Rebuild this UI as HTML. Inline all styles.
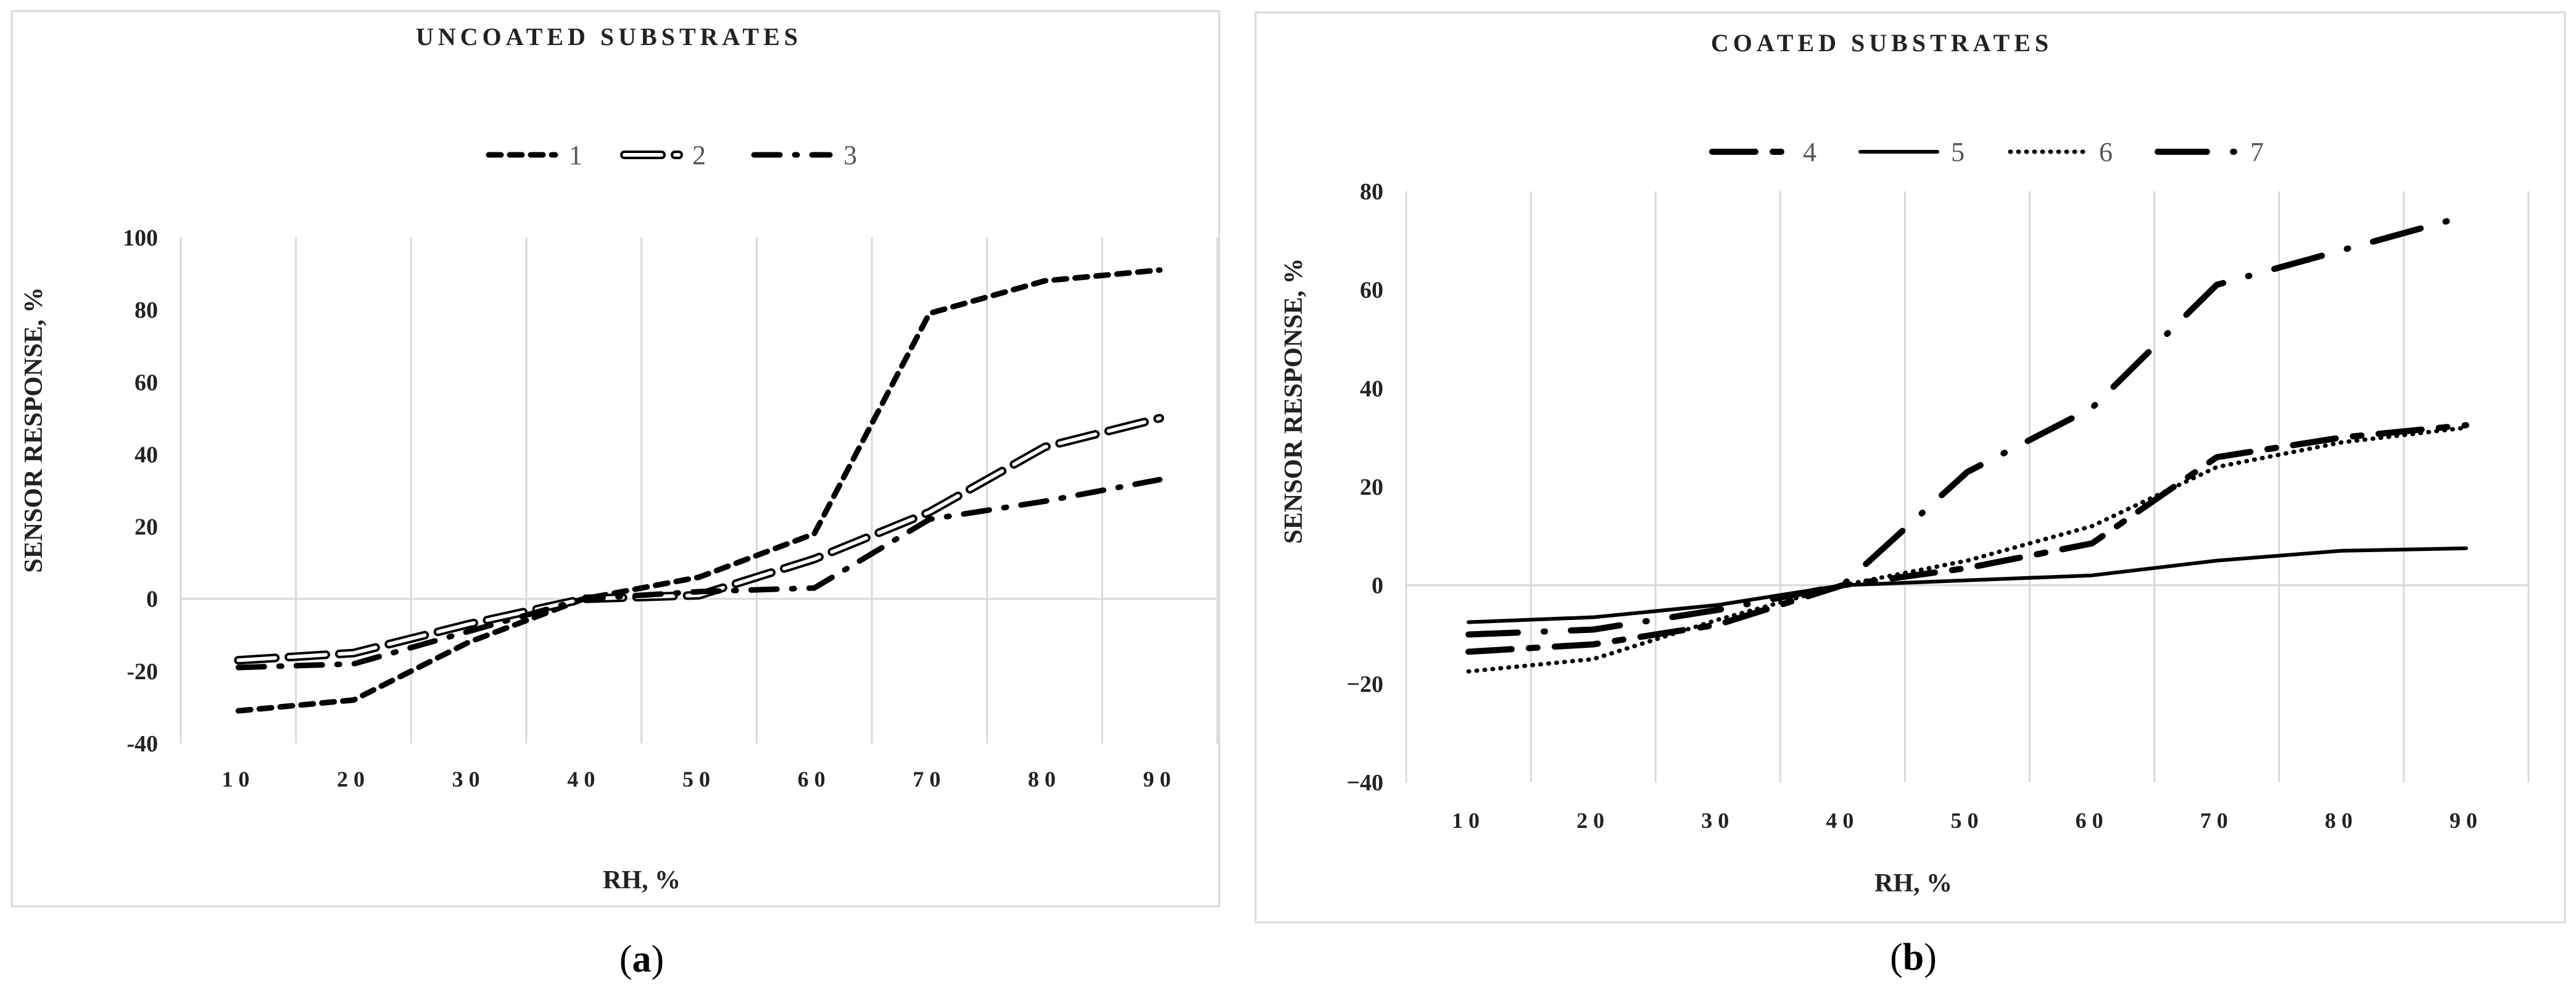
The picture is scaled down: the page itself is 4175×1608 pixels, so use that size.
<!DOCTYPE html>
<html><head><meta charset="utf-8"><style>
html,body{margin:0;padding:0;background:#fff}
svg{display:block}
text{font-family:"Liberation Serif",serif}
</style></head><body>
<svg id="chart" width="4175" height="1608" viewBox="0 0 4175 1608"></svg>
<script>
const categories = [10,20,30,40,50,60,70,80,90];
const s1 = [-31,-28,-12,0,6,18,79,88,91];
const s2 = [-17,-15,-7,0,1,11,24,42,50];
const s3 = [-19,-18,-9,0,2,3,22,27,33];
const s4 = [-13.5,-12,-8,0,3.5,8.5,26,30,32.5];
const s5 = [-7.5,-6.5,-4,0,1,2,5,7,7.5];
const s6 = [-17.5,-15,-7,0,5,12,24,29,32];
const s7 = [-10,-9,-5,0,23,36,61,68,75];
const ticksA = [100,80,60,40,20,0,-20,-40];
const ticksB = [80,60,40,20,0,-20,-40];

const NS='http://www.w3.org/2000/svg';
const svg=document.getElementById('chart');
function mk(tag,attrs,parent,text){const e=document.createElementNS(NS,tag);for(const k in attrs)e.setAttribute(k,attrs[k]);if(text!==undefined)e.textContent=text;(parent||svg).appendChild(e);return e;}

function panel(cfg){
  const g=mk('g',{});
  
  
  const fr=mk('rect',{x:cfg.fx,y:cfg.fy,width:cfg.fw,height:cfg.fh,fill:'none',stroke:'#d9d9d9','stroke-width':3},g);
  
  
  const t=mk('text',{x:cfg.tx,y:cfg.ty,'text-anchor':'middle','font-size':40,'font-weight':'bold','letter-spacing':7,fill:'#222'},g,cfg.title);
  
  
  const n=categories.length;
  const cw=(cfg.x1-cfg.x0)/n;
  const xs=i=>cfg.x0+cw*(i+0.5);
  const ys=v=>cfg.y0+(cfg.ymax-v)*(cfg.y1-cfg.y0)/(cfg.ymax-cfg.ymin);
  for(let i=0;i<=n;i++){
    const l=mk('line',{x1:cfg.x0+cw*i,x2:cfg.x0+cw*i,y1:cfg.y0,y2:cfg.y1,stroke:'#d9d9d9','stroke-width':3},g);
    
    
  }
  const z=mk('line',{x1:cfg.x0,x2:cfg.x1,y1:ys(0),y2:ys(0),stroke:'#d9d9d9','stroke-width':3},g);
  
  
  cfg.ticks.forEach(v=>{
    const tt=mk('text',{x:cfg.x0-37,y:ys(v)+13,'text-anchor':'end','font-size':38,'font-weight':'bold',fill:'#222'},g,(v<0&&cfg.minus)?'\u2212'+(-v):String(v));
    
    
  });
  categories.forEach((c,i)=>{
    const tt=mk('text',{x:xs(i),y:cfg.xly,'text-anchor':'middle','font-size':36,'font-weight':'bold','letter-spacing':9,fill:'#222'},g,String(c));
    
    
  });
  const yt=mk('text',{x:0,y:0,transform:`translate(${cfg.ytx},${cfg.yty}) rotate(-90)`,'text-anchor':'middle','font-size':42,'font-weight':'bold',fill:'#222'},g,'SENSOR RESPONSE, %');
  
  
  const xt=mk('text',{x:cfg.xtx,y:cfg.xty,'text-anchor':'middle','font-size':42,'font-weight':'bold',fill:'#222'},g,'RH, %');
  
  
  const lab=mk('text',{x:cfg.xtx,y:cfg.labY,'text-anchor':'middle','font-size':62,fill:'#000'},g,'');
  
  
  mk('tspan',{},lab,'(');mk('tspan',{'font-weight':'bold'},lab,cfg.letter);mk('tspan',{},lab,')');
  cfg.series.forEach(s=>{
    const pts=s.data.map((v,i)=>xs(i)+','+ys(v)).join(' ');
    drawLine(g,pts,s,'series-'+s.label);
    const lp=`${s.lx0},${cfg.ly} ${s.lx1},${cfg.ly}`;
    drawLine(g,lp,s,'legend-swatch-'+s.label);
    const lt=mk('text',{x:s.lx1+22,y:cfg.ly+15,'font-size':44,fill:'#555'},g,s.label);
    
    
  });
}
function drawLine(g,pts,s,name){
  if(s.double){
    const a=mk('polyline',{points:pts,fill:'none',stroke:'#000','stroke-width':14,'stroke-dasharray':s.dash,'stroke-linecap':'round','stroke-linejoin':'round'},g);
    
    
    const b=mk('polyline',{points:pts,fill:'none',stroke:'#fff','stroke-width':6,'stroke-dasharray':s.dash,'stroke-linecap':'round','stroke-linejoin':'round'},g);
    
    
  } else {
    const a=mk('polyline',{points:pts,fill:'none',stroke:'#000','stroke-width':s.w,'stroke-dasharray':s.dash||'none','stroke-linecap':'round','stroke-linejoin':'round'},g);
    
    
  }
}
panel({name:'chart-uncoated',letter:'a',fx:19,fy:18,fw:1957,fh:1451,title:'UNCOATED SUBSTRATES',tx:987,ty:73,
  x0:293,x1:1973,y0:385,y1:1205,ymax:100,ymin:-40,ticks:ticksA,minus:false,xly:1275,ytx:68,yty:697,xtx:1040,xty:1440,labY:1575,ly:251,
  series:[
    {label:'1',data:s1,w:9,dash:'20 14',lx0:792,lx1:900},
    {label:'2',data:s2,w:9,dash:'60 22',double:true,lx0:1012,lx1:1100},
    {label:'3',data:s3,w:9,dash:'42 24 4 24',lx0:1222,lx1:1345}
  ]});
panel({name:'chart-coated',letter:'b',fx:2035,fy:20,fw:2122,fh:1475,title:'COATED SUBSTRATES',tx:3050,ty:83,
  x0:2279,x1:4098,y0:310,y1:1268,ymax:80,ymin:-40,ticks:ticksB,minus:true,xly:1342,ytx:2110,yty:650,xtx:3101,xty:1445,labY:1572,ly:246,
  series:[
    {label:'4',data:s4,w:10,dash:'70 28 14 28',lx0:2775,lx1:2900},
    {label:'5',data:s5,w:6,lx0:3015,lx1:3140},
    {label:'6',data:s6,w:7,dash:'1 12',lx0:3258,lx1:3380},
    {label:'7',data:s7,w:10,dash:'80 42 2 42',lx0:3497,lx1:3625}
  ]});
</script>
</body></html>
